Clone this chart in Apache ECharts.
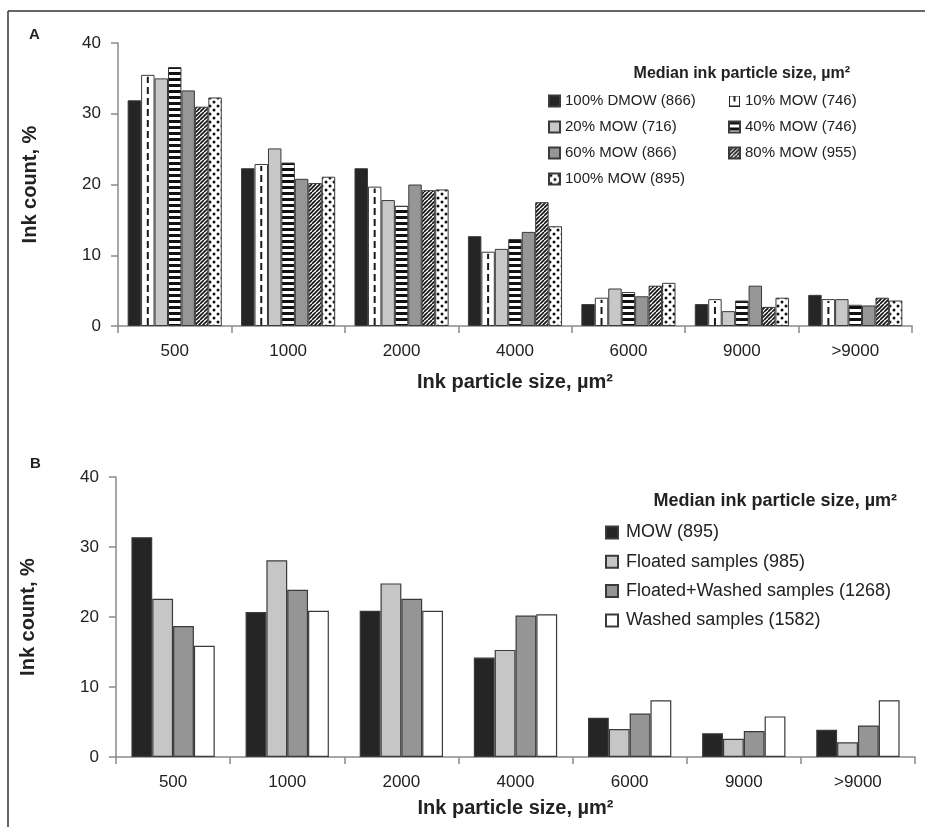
<!DOCTYPE html>
<html>
<head>
<meta charset="utf-8">
<script src="https://cdn.jsdelivr.net/npm/echarts@6/dist/echarts.min.js"></script>
<style>
  html, body { margin: 0; padding: 0; background: #fff; }
  #chart { width: 925px; height: 827px; }
</style>
</head>
<body>
<div id="chart"></div>
<script>
// categories (ink particle size, µm2)
var categories = ['500', '1000', '2000', '4000', '6000', '9000', '>9000'];
var yTicks = [0, 10, 20, 30, 40];

// panel A: ink count, %
var dmow100 = [31.9, 22.3, 22.3, 12.7, 3.1, 3.1, 4.4];
var mow10 = [35.5, 22.9, 19.7, 10.5, 4.0, 3.8, 3.8];
var mow20 = [35.0, 25.1, 17.8, 10.9, 5.3, 2.1, 3.8];
var mow40 = [36.6, 23.1, 17.0, 12.3, 4.8, 3.6, 3.0];
var mow60 = [33.3, 20.8, 20.0, 13.3, 4.2, 5.7, 2.9];
var mow80 = [31.0, 20.2, 19.2, 17.5, 5.7, 2.7, 4.0];
var mow100 = [32.3, 21.1, 19.3, 14.1, 6.1, 4.0, 3.6];

// panel B: ink count, %
var mowB = [31.4, 20.7, 20.9, 14.2, 5.6, 3.4, 3.9];
var floated = [22.6, 28.1, 24.8, 15.3, 4.0, 2.6, 2.1];
var floatedWashed = [18.7, 23.9, 22.6, 20.2, 6.2, 3.7, 4.5];
var washed = [15.9, 20.9, 20.9, 20.4, 8.1, 5.8, 8.1];

var namesA = ['100% DMOW (866)', '10% MOW (746)', '20% MOW (716)', '40% MOW (746)',
              '60% MOW (866)', '80% MOW (955)', '100% MOW (895)'];
var namesB = ['MOW (895)', 'Floated samples (985)', 'Floated+Washed samples (1268)', 'Washed samples (1582)'];

var FONT = '"Liberation Sans", Arial, sans-serif';
var EDGE = '#3a3a3a';
var AXIS = '#8a8a8a';

// fill patterns
function makeCanvas(w, h, draw) {
  var c = document.createElement('canvas');
  c.width = w; c.height = h;
  var ctx = c.getContext('2d');
  ctx.fillStyle = '#fff';
  ctx.fillRect(0, 0, w, h);
  draw(ctx);
  return c;
}
var hStripes = makeCanvas(6, 6, function (ctx) {
  ctx.fillStyle = '#111';
  ctx.fillRect(0, 0, 6, 3);
});
var diagStripes = makeCanvas(8, 8, function (ctx) {
  ctx.strokeStyle = '#111';
  ctx.lineWidth = 1.6;
  for (var x0 = -8; x0 <= 8; x0 += 4) {
    ctx.beginPath();
    ctx.moveTo(x0, 8);
    ctx.lineTo(x0 + 8, 0);
    ctx.stroke();
  }
});
var dots = makeCanvas(8, 8, function (ctx) {
  ctx.fillStyle = '#111';
  [[2, 2], [6, 6]].forEach(function (p) {
    ctx.beginPath();
    ctx.arc(p[0], p[1], 1.5, 0, Math.PI * 2);
    ctx.fill();
  });
});
var dashIcon = makeCanvas(11, 11, function (ctx) {
  ctx.strokeStyle = '#222';
  ctx.lineWidth = 1;
  ctx.strokeRect(0.5, 0.5, 10, 10);
  ctx.lineWidth = 2;
  ctx.beginPath();
  ctx.moveTo(5.5, 1);
  ctx.lineTo(5.5, 6);
  ctx.stroke();
});

var fillsA = ['#252525', '#ffffff', '#c8c8c8',
  {image: hStripes, repeat: 'repeat'}, '#969696',
  {image: diagStripes, repeat: 'repeat'}, {image: dots, repeat: 'repeat'}];
var fillsB = ['#252525', '#c6c6c6', '#959595', '#ffffff'];
var dataA = [dmow100, mow10, mow20, mow40, mow60, mow80, mow100];
var dataB = [mowB, floated, floatedWashed, washed];
var gapA = 0.17, gapB = 0.27;

function yAxisCfg(grid) {
  return {
    type: 'value', gridIndex: grid, min: yTicks[0], max: yTicks[yTicks.length - 1], interval: 10,
    name: 'Ink count, %', nameLocation: 'middle', nameGap: 78,
    nameTextStyle: {fontFamily: FONT, fontSize: 20, fontWeight: 'bold', color: '#222'},
    axisLine: {show: true, lineStyle: {color: AXIS, width: 1.5}},
    axisTick: {show: true, length: 7, lineStyle: {color: AXIS, width: 1.5}},
    axisLabel: {fontFamily: FONT, fontSize: 17, color: '#222', margin: 17},
    splitLine: {show: false}
  };
}
function xAxisCfg(grid, gap) {
  return {
    type: 'category', gridIndex: grid, data: categories,
    name: 'Ink particle size, µm²', nameLocation: 'middle', nameGap: gap,
    nameTextStyle: {fontFamily: FONT, fontSize: 20, fontWeight: 'bold', color: '#222'},
    axisLine: {show: true, lineStyle: {color: AXIS, width: 1.5}},
    axisTick: {show: true, length: 7, lineStyle: {color: AXIS, width: 1.5}},
    axisLabel: {fontFamily: FONT, fontSize: 17, color: '#222', margin: 17}
  };
}

var series = [];
namesA.forEach(function (n, i) {
  series.push({
    name: n, type: 'bar', xAxisIndex: 0, yAxisIndex: 0, data: dataA[i],
    barGap: '0%', barCategoryGap: (gapA * 100) + '%',
    itemStyle: {color: fillsA[i], borderColor: EDGE, borderWidth: 1}
  });
});
// dashed line down the middle of the 10% MOW bars
series.push({
  name: 'dash', type: 'custom', xAxisIndex: 0, yAxisIndex: 0, z: 5, silent: true,
  data: mow10.map(function (v, i) { return [i, v]; }),
  renderItem: function (params, api) {
    var base = api.coord([api.value(0), 0]);
    var top = api.coord([api.value(0), api.value(1)]);
    var w = api.size([1, 0])[0];
    var gw = w * (1 - gapA), bw = gw / 7;
    var x = base[0] - gw / 2 + bw * 1.5;
    return {
      type: 'line',
      shape: {x1: x, y1: base[1] - 1, x2: x, y2: top[1] + 2},
      style: {stroke: '#1a1a1a', lineWidth: 2, lineDash: [7, 4]}
    };
  }
});
namesB.forEach(function (n, i) {
  series.push({
    name: n, type: 'bar', xAxisIndex: 1, yAxisIndex: 1, data: dataB[i],
    barGap: '0%', barCategoryGap: (gapB * 100) + '%',
    itemStyle: {color: fillsB[i], borderColor: EDGE, borderWidth: 1.2}
  });
});

var legendTextA = {fontFamily: FONT, fontSize: 15, color: '#222', lineHeight: 16};
var legendTextB = {fontFamily: FONT, fontSize: 18, color: '#222', lineHeight: 19, padding: [0, 0, 0, 3]};

var option = {
  animation: false,
  backgroundColor: '#fff',
  grid: [
    {left: 118, right: 13, top: 43, height: 283},
    {left: 116, right: 10, top: 477, height: 280}
  ],
  xAxis: [xAxisCfg(0, 46), xAxisCfg(1, 41)],
  yAxis: [yAxisCfg(0), yAxisCfg(1)],
  legend: [
    {
      orient: 'vertical', left: 548, top: 93, padding: 0, itemWidth: 11, itemHeight: 11, itemGap: 10,
      icon: 'rect', textStyle: legendTextA, selectedMode: false,
      data: [namesA[0], namesA[2], namesA[4], namesA[6]]
    },
    {
      orient: 'vertical', left: 728, top: 93, padding: 0, itemWidth: 11, itemHeight: 11, itemGap: 10,
      icon: 'rect', textStyle: legendTextA, selectedMode: false,
      data: [{name: namesA[1], icon: 'image://' + dashIcon.toDataURL()}, namesA[3], namesA[5]]
    },
    {
      orient: 'vertical', left: 605, top: 523, padding: 0, itemWidth: 12, itemHeight: 12, itemGap: 10.3,
      icon: 'rect', textStyle: legendTextB, selectedMode: false,
      data: namesB
    }
  ],
  graphic: [
    {type: 'line', shape: {x1: 8, y1: 11, x2: 925, y2: 11}, style: {stroke: '#333', lineWidth: 1.5}},
    {type: 'line', shape: {x1: 8, y1: 11, x2: 8, y2: 827}, style: {stroke: '#333', lineWidth: 1.5}},
    {type: 'text', left: 29, top: 27, style: {text: 'A', font: 'bold 15px ' + FONT, fill: '#222'}},
    {type: 'text', left: 30, top: 456, style: {text: 'B', font: 'bold 15px ' + FONT, fill: '#222'}},
    {type: 'text', right: 75, top: 66, style: {text: 'Median ink particle size, µm²', font: 'bold 16px ' + FONT, fill: '#222'}},
    {type: 'text', right: 28, top: 492, style: {text: 'Median ink particle size, µm²', font: 'bold 18px ' + FONT, fill: '#222'}}
  ],
  series: series
};

var chart = echarts.init(document.getElementById('chart'), null, {renderer: 'canvas'});
chart.setOption(option);
</script>
</body>
</html>
